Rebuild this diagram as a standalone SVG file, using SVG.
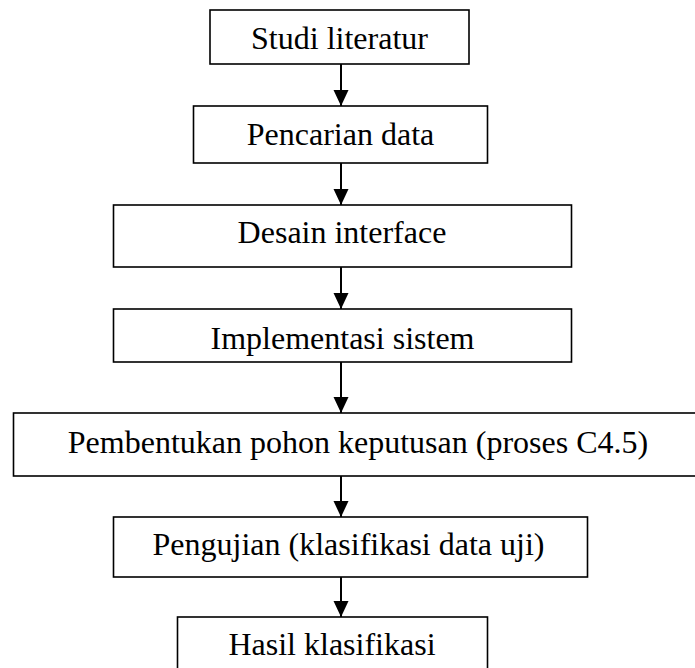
<svg xmlns="http://www.w3.org/2000/svg" width="695" height="668" viewBox="0 0 695 668">
  <defs>
    <style>
      .box { fill: #ffffff; stroke: #000000; stroke-width: 1.6; }
      .lbl { font-family: "Liberation Serif", "Times New Roman", serif; font-size: 32px; fill: #000000; text-anchor: middle; }
      .conn { stroke: #000000; stroke-width: 2; fill: none; marker-end: url(#arrow); }
    </style>
    <marker id="arrow" markerUnits="userSpaceOnUse" markerWidth="16" markerHeight="17" refX="16" refY="7.5" orient="auto">
      <path d="M0,0 L16,7.5 L0,15 Z" fill="#000000"/>
    </marker>
  </defs>
  <rect width="695" height="668" fill="#ffffff"/>
  <g id="connectors">
    <line class="conn" x1="341" y1="64" x2="341" y2="106"/>
    <line class="conn" x1="341" y1="163" x2="341" y2="205"/>
    <line class="conn" x1="341" y1="267" x2="341" y2="309"/>
    <line class="conn" x1="341" y1="362" x2="341" y2="413"/>
    <line class="conn" x1="341" y1="476" x2="341" y2="517"/>
    <line class="conn" x1="341" y1="577" x2="341" y2="617"/>
  </g>
  <g id="n1">
    <rect class="box" x="210" y="10" width="259" height="54"/>
    <text class="lbl" x="339.5" y="49">Studi literatur</text>
  </g>
  <g id="n2">
    <rect class="box" x="193.5" y="106" width="294" height="57"/>
    <text class="lbl" x="340.5" y="145">Pencarian data</text>
  </g>
  <g id="n3">
    <rect class="box" x="113.5" y="205" width="458" height="62"/>
    <text class="lbl" x="342" y="243">Desain interface</text>
  </g>
  <g id="n4">
    <rect class="box" x="113.5" y="309" width="458" height="53"/>
    <text class="lbl" x="342.5" y="349">Implementasi sistem</text>
  </g>
  <g id="n5">
    <rect class="box" x="13.5" y="413" width="690" height="63"/>
    <text class="lbl" x="358" y="453">Pembentukan pohon keputusan (proses C4.5)</text>
  </g>
  <g id="n6">
    <rect class="box" x="113.5" y="517" width="474" height="60"/>
    <text class="lbl" x="348.5" y="555">Pengujian (klasifikasi data uji)</text>
  </g>
  <g id="n7">
    <rect class="box" x="177.5" y="617" width="310" height="60"/>
    <text class="lbl" x="332" y="655">Hasil klasifikasi</text>
  </g>
</svg>
